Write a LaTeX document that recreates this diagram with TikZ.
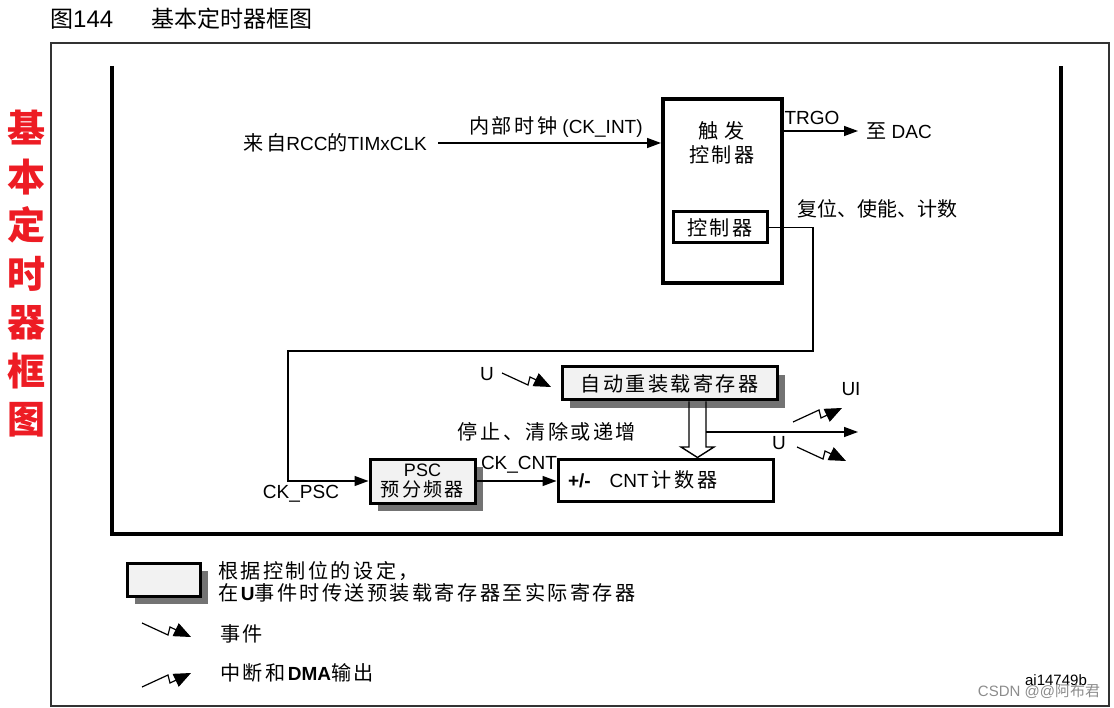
\documentclass[tikz,border=0pt]{standalone}
\usepackage{fontspec}
\setmainfont{Liberation Sans}
\newfontfamily\cjk[LetterSpace=12,Scale=1.06]{Noto Sans CJK SC}
\newfontfamily\cjkplain{Noto Sans CJK SC}
\usetikzlibrary{arrows.meta,shadows}
\definecolor{titlered}{RGB}{237,28,36}
\definecolor{regfill}{RGB}{242,242,242}
\tikzset{
  blk/.style={
    draw,
    line width=3pt,
    inner sep=0pt,
    font=\fontsize{19}{20}\selectfont
  },
  regblk/.style={
    blk,
    fill=regfill,
    drop shadow={shadow xshift=8pt,shadow yshift=-8pt,fill=black!55,opacity=1}
  },
  txt/.style={inner sep=0pt,font=\fontsize{19}{22}\selectfont},
  wire/.style={line width=1.4pt},
  sig/.style={wire,-{Triangle[length=14pt,width=10pt]}},
  evt/.pic={
    \draw[line width=1.2pt,-{Triangle[length=17pt,width=14pt]}] (0,0) -- (26,12) -- (28,4) -- (49,14);
  },
  irq/.pic={
    \draw[line width=1.2pt,-{Triangle[length=17pt,width=14pt]}] (0,0) -- (26,-12) -- (28,-4) -- (49,-14);
  }
}

\begin{document}
\begin{tikzpicture}[x=1pt,y=-1pt]
  \useasboundingbox (0,0) rectangle (1114,708);
  \draw[line width=1.5pt,black!80] (51,43) rectangle (1109,706);
  \draw[line width=4pt] (112,66) -- (112,534) -- (1061,534) -- (1061,66);

  \node[txt,anchor=west,font=\fontsize{24}{26}\selectfont] (fig) at (50,19) {{\cjkplain\fontsize{23}{26}\selectfont 图}144};
  \node[txt,anchor=west,font=\cjkplain\fontsize{23}{26}\selectfont] (figname) at (151,19) {基本定时器框图};
  \node[txt,text=titlered,align=center,font=\cjkplain\fontsize{38}{48.5}\bfseries] (side) at (26,274) {基\\本\\定\\时\\器\\框\\图};

  \node[blk,line width=4pt,minimum width=119pt,minimum height=184pt] (trig) at (722.5,191) {};
  \node[txt,align=center,font=\cjk\fontsize{19}{24}\selectfont] (trigname) at (722,143) {触\hspace{6pt}发\\控制器};
  \node[blk,minimum width=94pt,minimum height=31pt] (ctrl) at (720,227.5) {\cjk 控制器};

  \node[txt,anchor=east] (clksrc) at (427,143) {{\cjk 来自}RCC{\cjk 的}TIMxCLK};
  \node[txt] (ckint) at (556,127) {{\cjk 内部时钟} (CK\_INT)};
  \draw[sig] ([xshift=11pt]clksrc.east) -- (trig.west |- clksrc.east);

  \node[txt] (trgo) at (812,118) {TRGO};
  \node[txt,anchor=west] (dac) at (866,131) {{\cjk 至} DAC};
  \draw[sig] (trig.east |- dac.west) -- ([xshift=-8pt]dac.west);
  \node[txt] (rst) at (877,209) {\cjkplain\fontsize{20}{22}\selectfont 复位、使能、计数};

  \node[regblk,minimum width=215pt,minimum height=33pt] (arr) at (669.5,383.5) {\cjk 自动重装载寄存器};
  \node[regblk,minimum width=105pt,minimum height=44pt,align=center,font=\fontsize{18}{20}\selectfont] (psc) at (422.5,481) {PSC\\{\cjk 预分频器}};
  \node[blk,minimum width=215pt,minimum height=42pt,text width=195pt,align=left] (cnt) at (665.5,480) {\textbf{+/-}\hspace{19pt}CNT\,{\cjk 计数器}};

  \draw[sig] (ctrl.east) -| (813,351) -- (288,351) |- (psc.west);
  \draw[sig] (psc.east) -- (cnt.west |- psc.east);
  \node[txt] (ckpsc) at (301,494) {CK\_PSC};
  \node[txt] (ckcnt) at (519,465) {CK\_CNT};
  \node[txt] (stop) at (547,432) {\cjk 停止、清除或递增};

  \draw[wire] (689,0 |- arr.south) -- (689,447) -- (681,447) -- (697.5,0 |- cnt.north) -- (714,447) -- (706,447) -- (706,0 |- arr.south);
  \coordinate (uiout) at (858,432);
  \draw[sig] (706,432) -- (uiout);

  \node[txt] (uin) at (487,374) {U};
  \pic at (502,373) {evt};
  \node[txt] (ui) at (851,389) {UI};
  \pic at (793,422) {irq};
  \node[txt] (uout) at (779,443) {U};
  \pic at (797,447) {evt};

  \node[regblk,minimum width=73pt,minimum height=33pt] (lgbox) at (163.5,579.5) {};
  \node[txt,anchor=west,align=left] (lgtxt) at (218,582) {{\cjk 根据控制位的设定，}\\{\cjk 在}\textbf{U}{\cjk 事件时传送预装载寄存器至实际寄存器}};
  \pic at (142,623) {evt};
  \node[txt,anchor=west] (lgevt) at (220,634) {\cjk 事件};
  \pic at (142,687) {irq};
  \node[txt,anchor=west] (lgirq) at (220,673) {{\cjk 中断和}\textbf{DMA}{\cjk 输出}};

  \node[txt,font=\fontsize{15}{16}\selectfont] (code) at (1056,680) {ai14749b};
  \node[txt,text=black!45,font=\fontsize{15}{16}\selectfont] (mark) at (1039,691) {CSDN @@{\cjkplain 阿布君}};
\end{tikzpicture}
\end{document}
